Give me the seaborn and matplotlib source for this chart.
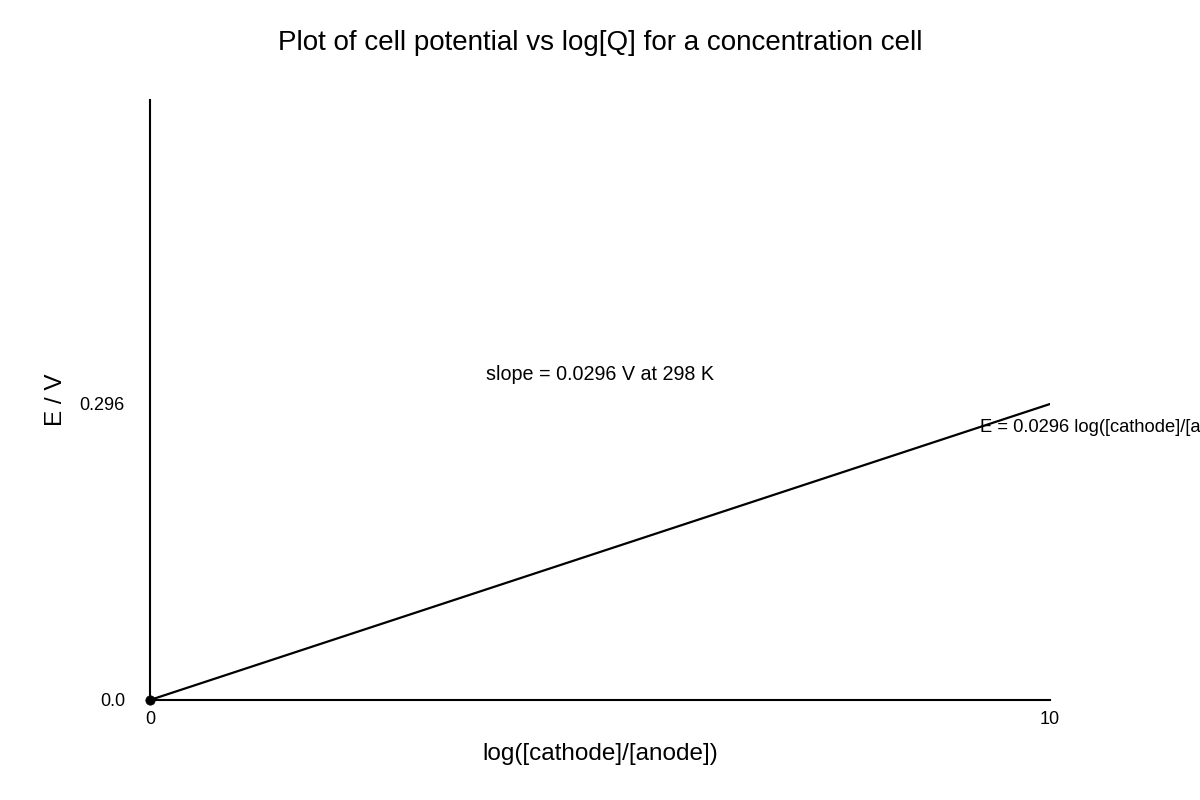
import matplotlib
matplotlib.use("Agg")
import matplotlib.pyplot as plt
import pandas as pd
import seaborn as sns

# data
log_q = [0, 10]
cell_e = [0.0, 0.296]
x_ticks = [0, 10]
y_ticks = [0.0, 0.296]
y_tick_labels = ["0.0", "0.296"]

sns.set_theme(style="white")
plt.rcParams["font.family"] = ["Liberation Sans", "DejaVu Sans"]
plt.rcParams["text.color"] = "black"
plt.rcParams["axes.labelcolor"] = "black"

df = pd.DataFrame({"logQ": log_q, "E": cell_e})

fig = plt.figure(figsize=(12, 8), dpi=100)
ax = fig.add_axes([0.125, 0.125, 0.75, 0.75])

sns.lineplot(data=df, x="logQ", y="E", color="black", linewidth=1.6, ax=ax)
sns.scatterplot(data=df.iloc[[0]], x="logQ", y="E", color="black", s=45,
                edgecolor="black", zorder=5, clip_on=False, ax=ax)

ax.set_xlim(0, 10)
ax.set_ylim(0, 0.6)
ax.set_xticks(x_ticks)
ax.set_yticks(y_ticks)
ax.set_yticklabels(y_tick_labels)
ax.tick_params(axis="both", length=0, labelsize=13, colors="black")
ax.tick_params(axis="y", pad=18)
ax.tick_params(axis="x", pad=8)

for side in ["top", "right"]:
    ax.spines[side].set_visible(False)
for side in ["left", "bottom"]:
    ax.spines[side].set_color("black")
    ax.spines[side].set_linewidth(1.5)

ax.set_xlabel("log([cathode]/[anode])", fontsize=17.5)
ax.set_ylabel("E / V", fontsize=17.5)
ax.xaxis.set_label_coords(0.5, -0.072)
ax.yaxis.set_label_coords(-0.092, 0.5)

ax.text(5, 0.325, "slope = 0.0296 V at 298 K", ha="center", va="center", fontsize=14.2)
# equation label runs off the right edge, as in the original
ax.text(9.22, 0.273, "E = 0.0296 log([cathode]/[anode])", ha="left", va="center",
        fontsize=13.2, clip_on=False)

fig.text(0.5, 1 - 43 / 800, "Plot of cell potential vs log[Q] for a concentration cell",
         ha="center", va="center", fontsize=20)

fig.savefig("out.png", dpi=100)
